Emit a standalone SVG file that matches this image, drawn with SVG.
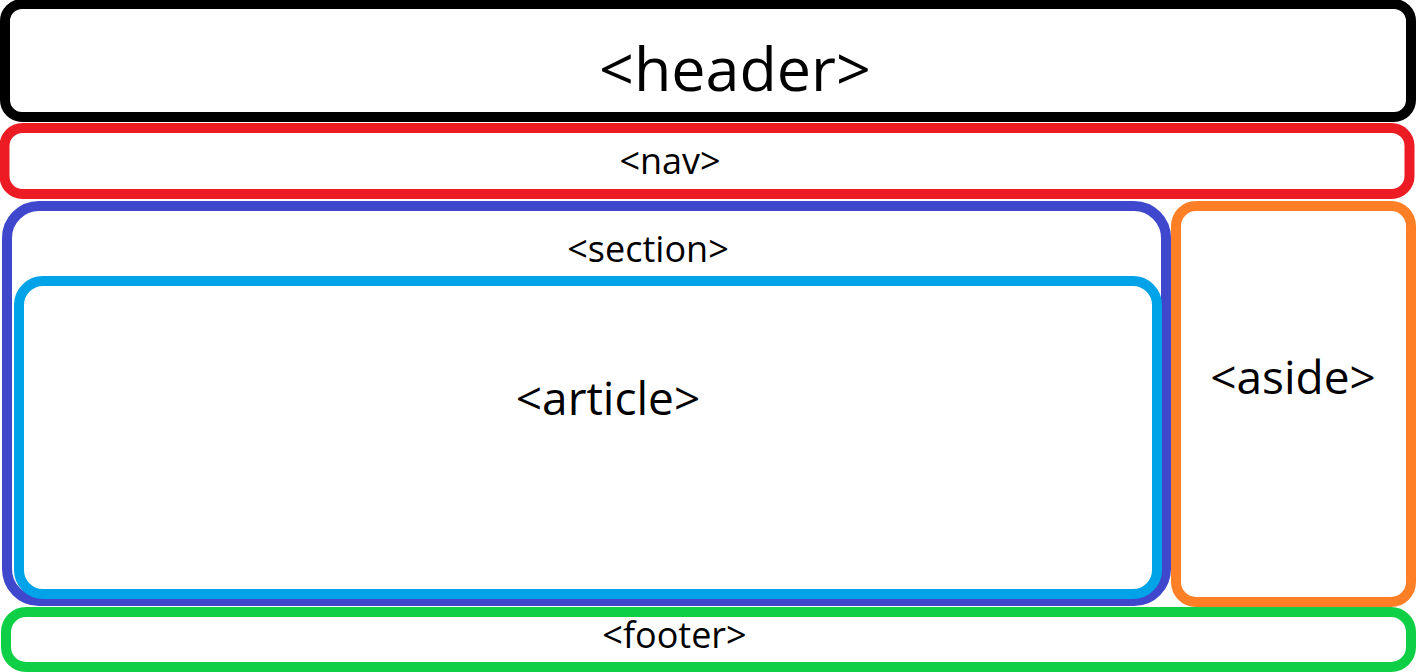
<svg xmlns="http://www.w3.org/2000/svg" width="1416" height="672" viewBox="0 0 1416 672">
<style>
.box{fill:#fff;stroke-width:10}
.lbl{font-family:"Open Sans","Noto Sans","Liberation Sans",sans-serif;fill:#000;text-anchor:middle}
</style>
<rect width="1416" height="672" fill="#fff"/>
<g id="header">
<rect class="box" x="5" y="4" width="1406" height="113" rx="17" stroke="#000"/>
<text class="lbl" x="735" y="91" font-size="61">&lt;header&gt;</text>
</g>
<g id="nav">
<rect class="box" x="4.5" y="128" width="1405" height="66" rx="18" stroke="#ed1c24" stroke-width="9"/>
<text class="lbl" x="670" y="174" font-size="36">&lt;nav&gt;</text>
</g>
<g id="section">
<rect class="box" x="7" y="206" width="1159" height="395" rx="32" stroke="#3f48cc"/>
<text class="lbl" x="648" y="262" font-size="36">&lt;section&gt;</text>
</g>
<g id="article">
<rect class="box" x="19" y="281" width="1138" height="313" rx="24" stroke="#00a2e8"/>
<text class="lbl" x="608" y="415" font-size="46">&lt;article&gt;</text>
</g>
<g id="aside">
<rect class="box" x="1176" y="206" width="235" height="396" rx="20" stroke="#ff7f27"/>
<text class="lbl" x="1293" y="394" font-size="46">&lt;aside&gt;</text>
</g>
<g id="footer">
<rect class="box" x="6" y="612" width="1405" height="55" rx="20" stroke="#0fcf46"/>
<text class="lbl" x="674.5" y="648" font-size="36">&lt;footer&gt;</text>
</g>
<g id="connectors"/>
</svg>
